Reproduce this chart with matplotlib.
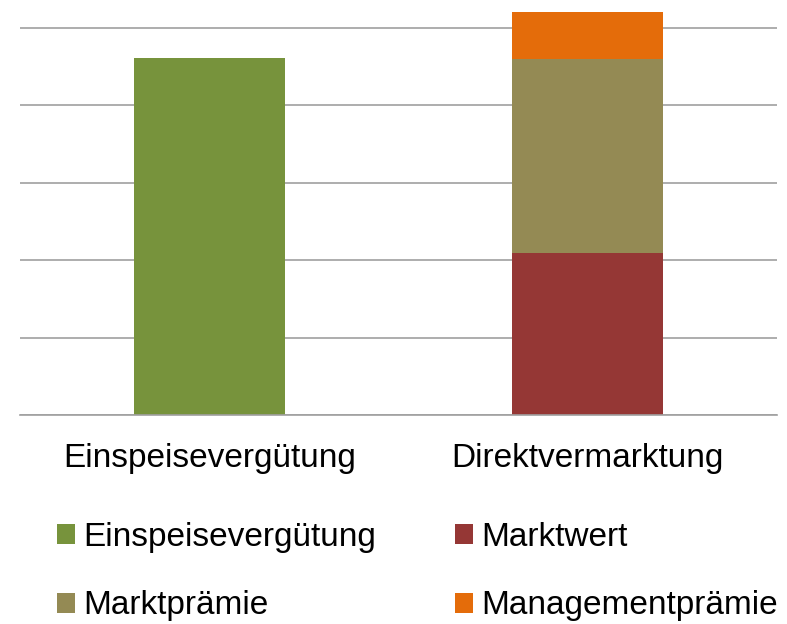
import matplotlib
matplotlib.use('Agg')
import matplotlib.pyplot as plt
import numpy as np

plt.rcParams['font.family'] = ['Liberation Sans', 'DejaVu Sans']

categories = ['Einspeisevergütung', 'Direktvermarktung']
einspeise = [4.61, 0]
marktwert = [0, 2.10]
marktpraemie = [0, 2.50]
management = [0, 0.60]

colors = {'Einspeisevergütung': '#77933C', 'Marktwert': '#953735',
          'Marktprämie': '#948A54', 'Managementprämie': '#E46C0A'}

fig = plt.figure(figsize=(7.87, 6.24), dpi=100)
ax = fig.add_axes([20/787, (624-415.3)/624, 757/787, 5.3*77.5/624])

x = np.arange(len(categories))
w = 0.4
b1 = ax.bar(x, einspeise, w, color=colors['Einspeisevergütung'], zorder=2)
b2 = ax.bar(x, marktwert, w, color=colors['Marktwert'], zorder=2)
b3 = ax.bar(x, marktpraemie, w, bottom=marktwert, color=colors['Marktprämie'], zorder=2)
bottom2 = np.array(marktwert) + np.array(marktpraemie)
b4 = ax.bar(x, management, w, bottom=bottom2, color=colors['Managementprämie'], zorder=2)

ax.set_xlim(-0.5, 1.5)
ax.set_ylim(0, 5.3)
ax.set_yticks([0, 1, 2, 3, 4, 5])
ax.set_yticklabels([])
ax.yaxis.grid(True, color='#a0a0a0', linewidth=1.2, zorder=0)
ax.tick_params(axis='y', length=0)
ax.set_xticks(x)
ax.set_xticklabels(categories, fontsize=24)
ax.tick_params(axis='x', length=0, pad=20)
for s in ['top', 'right', 'left']:
    ax.spines[s].set_visible(False)
ax.spines['bottom'].set_color('#a0a0a0')
ax.spines['bottom'].set_linewidth(1.2)

handles = [b1, b3, b2, b4]
labels = ['Einspeisevergütung', 'Marktprämie', 'Marktwert', 'Managementprämie']
fig.legend(handles, labels, loc='upper left', bbox_to_anchor=(57/787, 1-522/624),
           ncol=2, frameon=False, fontsize=24, handlelength=0.55, handleheight=0.55,
           handletextpad=0.25, columnspacing=2.35, labelspacing=1.12,
           borderpad=0, borderaxespad=0)

fig.savefig('out.png', dpi=100)
